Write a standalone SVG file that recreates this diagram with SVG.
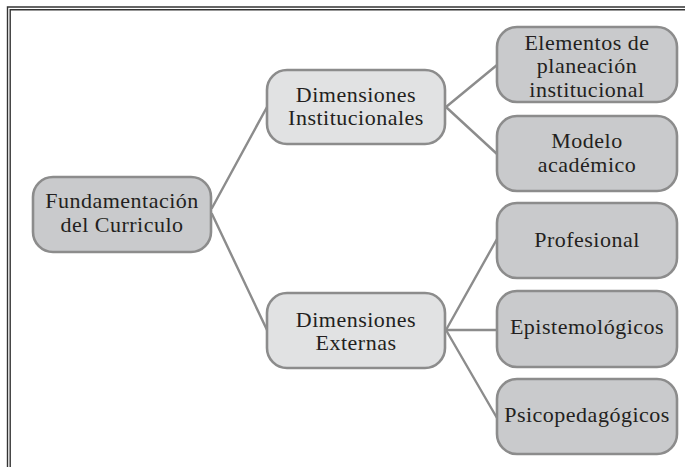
<svg xmlns="http://www.w3.org/2000/svg" width="685" height="467" viewBox="0 0 685 467">
<style>
.frame{stroke:#333;stroke-width:1.4;fill:none}
.box{stroke:#8c8c8c;stroke-width:2.6}
.dark{fill:#c9cacc}
.light{fill:#e1e2e3}
.conn line{stroke:#8c8c8c;stroke-width:2.4;stroke-linecap:round}
text{font-family:"Liberation Serif","Times New Roman",serif;font-size:22px;fill:#231f20;text-anchor:middle;letter-spacing:0.5px}
</style>
<rect width="685" height="467" fill="#fff"/>
<g id="frame">
<path class="frame" d="M7.5,467 V7 H685"/>
<path class="frame" d="M10.2,467 V9.7 H685"/>
</g>
<g id="connectors" class="conn">
<line x1="212" y1="208" x2="267" y2="107"/>
<line x1="212" y1="214" x2="267" y2="330"/>
<line x1="446" y1="107" x2="497" y2="65"/>
<line x1="446" y1="107" x2="497" y2="154"/>
<line x1="446" y1="330" x2="497" y2="239"/>
<line x1="446" y1="330" x2="497" y2="330"/>
<line x1="446" y1="330" x2="497" y2="418"/>
</g>
<g id="root">
<rect class="box dark" x="33" y="177" width="178" height="75" rx="20"/>
<text x="122" y="208">Fundamentación</text>
<text x="122" y="232">del Curriculo</text>
</g>
<g id="inst">
<rect class="box light" x="267" y="70" width="178" height="74" rx="20"/>
<text x="356" y="102">Dimensiones</text>
<text x="356" y="125">Institucionales</text>
</g>
<g id="ext">
<rect class="box light" x="267" y="293" width="178" height="75" rx="20"/>
<text x="356" y="327">Dimensiones</text>
<text x="356" y="350">Externas</text>
</g>
<g id="elementos">
<rect class="box dark" x="497" y="27" width="180" height="75" rx="20"/>
<text x="587" y="50">Elementos de</text>
<text x="587" y="73">planeación</text>
<text x="587" y="97">institucional</text>
</g>
<g id="modelo">
<rect class="box dark" x="497" y="116" width="180" height="75" rx="20"/>
<text x="587" y="148">Modelo</text>
<text x="587" y="172">académico</text>
</g>
<g id="profesional">
<rect class="box dark" x="497" y="203" width="180" height="75" rx="20"/>
<text x="587" y="247">Profesional</text>
</g>
<g id="epistemologicos">
<rect class="box dark" x="497" y="291" width="180" height="76" rx="20"/>
<text x="587" y="334">Epistemológicos</text>
</g>
<g id="psicopedagogicos">
<rect class="box dark" x="497" y="379" width="180" height="75" rx="20"/>
<text x="587" y="422">Psicopedagógicos</text>
</g>
</svg>
